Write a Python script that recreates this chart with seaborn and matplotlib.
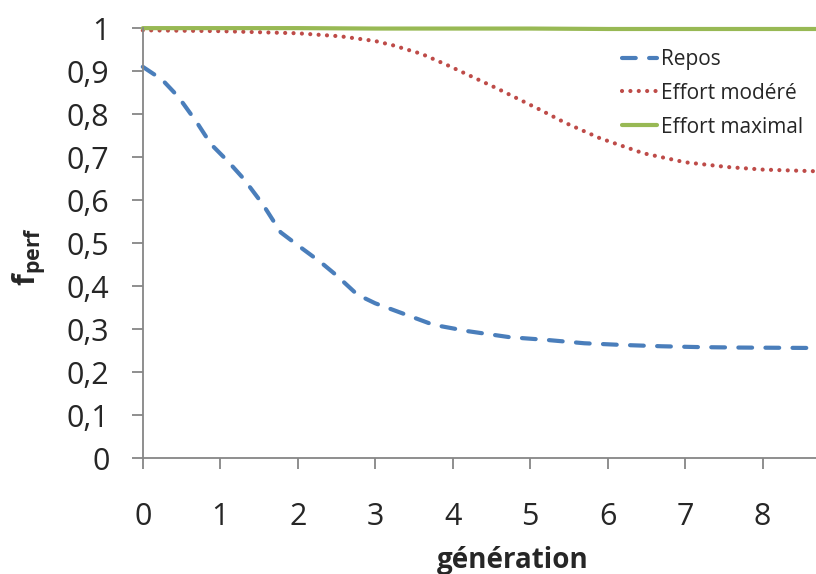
import matplotlib
matplotlib.use('Agg')
import matplotlib.pyplot as plt
import seaborn as sns
from matplotlib.ticker import FuncFormatter

# values
gen_repos = [0, 0.25, 0.46, 0.7, 0.88, 1.1, 1.3, 1.55, 1.78, 2.0, 2.3, 2.5, 2.77,
             3.0, 3.3, 3.75, 4.2, 4.74, 5.2, 5.7, 6.2, 6.7, 7.2, 7.7, 8.7]
f_repos = [0.91, 0.88, 0.84, 0.78, 0.73, 0.69, 0.65, 0.59, 0.525, 0.495, 0.455, 0.425, 0.38,
           0.36, 0.34, 0.31, 0.295, 0.281, 0.275, 0.267, 0.263, 0.26, 0.258, 0.257, 0.256]

gen_modere = [0, 1, 2, 2.55, 3.0, 3.23, 3.6, 3.93, 4.57, 5.13, 5.45, 5.9, 6.46, 7.0, 7.54, 8.0, 8.7]
f_modere = [0.995, 0.993, 0.988, 0.981, 0.97, 0.96, 0.94, 0.914, 0.86, 0.81, 0.78, 0.744,
            0.709, 0.688, 0.677, 0.671, 0.667]

gen_max = [0, 2, 3, 5, 6, 8.7]
f_max = [1.0, 1.0, 0.999, 0.999, 0.998, 0.998]

sns.set_style('white')
plt.rcParams['font.family'] = ['Open Sans', 'DejaVu Sans']
plt.rcParams['mathtext.fontset'] = 'custom'
plt.rcParams['mathtext.bf'] = 'Open Sans:bold'
plt.rcParams['mathtext.rm'] = 'Open Sans'

fig = plt.figure(figsize=(8.16, 5.74), dpi=100)
ax = fig.add_axes([0.175, 0.202, 0.825, 0.749])

lw = 3.0
sns.lineplot(x=gen_repos, y=f_repos, ax=ax, color='#4A7EBB', lw=lw, label='Repos',
             linestyle=(0, (3.3, 3.2)), dash_capstyle='round', clip_on=False)
sns.lineplot(x=gen_modere, y=f_modere, ax=ax, color='#BE4B48', lw=lw, label='Effort modéré',
             linestyle=(0, (0.01, 2.0)), dash_capstyle='round', clip_on=False)
sns.lineplot(x=gen_max, y=f_max, ax=ax, color='#98B954', lw=lw, label='Effort maximal',
             clip_on=False)

ax.set_xlim(0, 8.69)
ax.set_ylim(0, 1)
ax.set_xticks(range(0, 9))
ax.set_yticks([i / 10 for i in range(11)])
ax.yaxis.set_major_formatter(FuncFormatter(lambda v, p: ('%g' % round(v, 1)).replace('.', ',')))

for s in ['top', 'right']:
    ax.spines[s].set_visible(False)
for s in ['left', 'bottom']:
    ax.spines[s].set_color('#868686')
    ax.spines[s].set_linewidth(1.3)

ax.tick_params(axis='x', direction='out', length=8, width=1.3, color='#868686',
               labelsize=22, pad=24, bottom=True)
ax.tick_params(axis='y', direction='out', length=8, width=1.3, color='#868686',
               labelsize=22, pad=16, left=True)

ax.set_xlabel('génération', fontsize=20, fontweight='bold')
ax.xaxis.set_label_coords(0.55, -0.205)
ax.set_ylabel(r'$\mathbf{f}_{\mathbf{perf}}$', fontsize=22)
ax.yaxis.set_label_coords(-0.141, 0.47)

leg = ax.legend(loc='upper right', bbox_to_anchor=(1.0, 0.981), frameon=False, fontsize=15,
                handlelength=1.7, handletextpad=0.2, labelspacing=0.62, borderaxespad=0.2)

fig.savefig('out.png', dpi=100)
